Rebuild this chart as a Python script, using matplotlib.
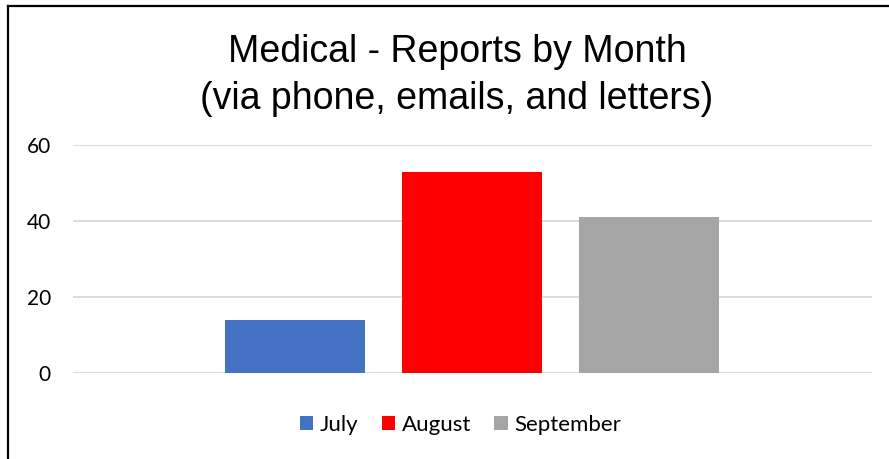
import matplotlib
matplotlib.use("Agg")
import matplotlib.pyplot as plt
from matplotlib.patches import Patch
from matplotlib.lines import Line2D

months = ["July", "August", "September"]
reports = [14, 53, 41]
colors = ["#4472C4", "#FF0000", "#A5A5A5"]
yticks = [0, 20, 40, 60]
title_lines = ["Medical - Reports by Month", "(via phone, emails, and letters)"]

W, H = 889, 459
fig = plt.figure(figsize=(W / 100, H / 100), dpi=100)
ax = fig.add_axes([73 / W, 1 - 373 / H, (872 - 73) / W, (373 - 145) / H])

x = list(range(len(months)))
ax.bar(x, reports, width=0.79, color=colors, zorder=3)
ax.set_xlim(-1.254, 3.26)
ax.set_ylim(0, 60)
ax.set_yticks(yticks)
ax.set_yticklabels([str(v) for v in yticks], fontsize=15, family="Lato", color="#000000")
ax.set_xticks([])
ax.tick_params(axis="y", length=0, pad=16)
ax.grid(axis="y", color="#D9D9D9", linewidth=1.3, zorder=0)
for s in ax.spines.values():
    s.set_visible(False)

for line, base in zip(title_lines, [62, 109]):
    fig.text(457 / W, 1 - base / H, line, ha="center", va="baseline", fontsize=27,
             family="Liberation Sans")

handles = [Patch(facecolor=c, edgecolor="none") for c in colors]
leg = fig.legend(handles, months, loc="center", bbox_to_anchor=(460.5 / W, 1 - 425 / H),
                 ncol=3, frameon=False, prop={"family": "Lato", "size": 16},
                 handlelength=0.6, handleheight=0.6, handletextpad=0.3,
                 columnspacing=1.05, borderpad=0, borderaxespad=0)

# border lines (top and left)
fig.add_artist(Line2D([8 / W, 1], [1 - 5.5 / H, 1 - 5.5 / H], transform=fig.transFigure,
                      color="black", linewidth=1.6))
fig.add_artist(Line2D([8 / W, 8 / W], [0, 1 - 5.5 / H], transform=fig.transFigure,
                      color="black", linewidth=1.6))

fig.savefig("out.png", dpi=100)
